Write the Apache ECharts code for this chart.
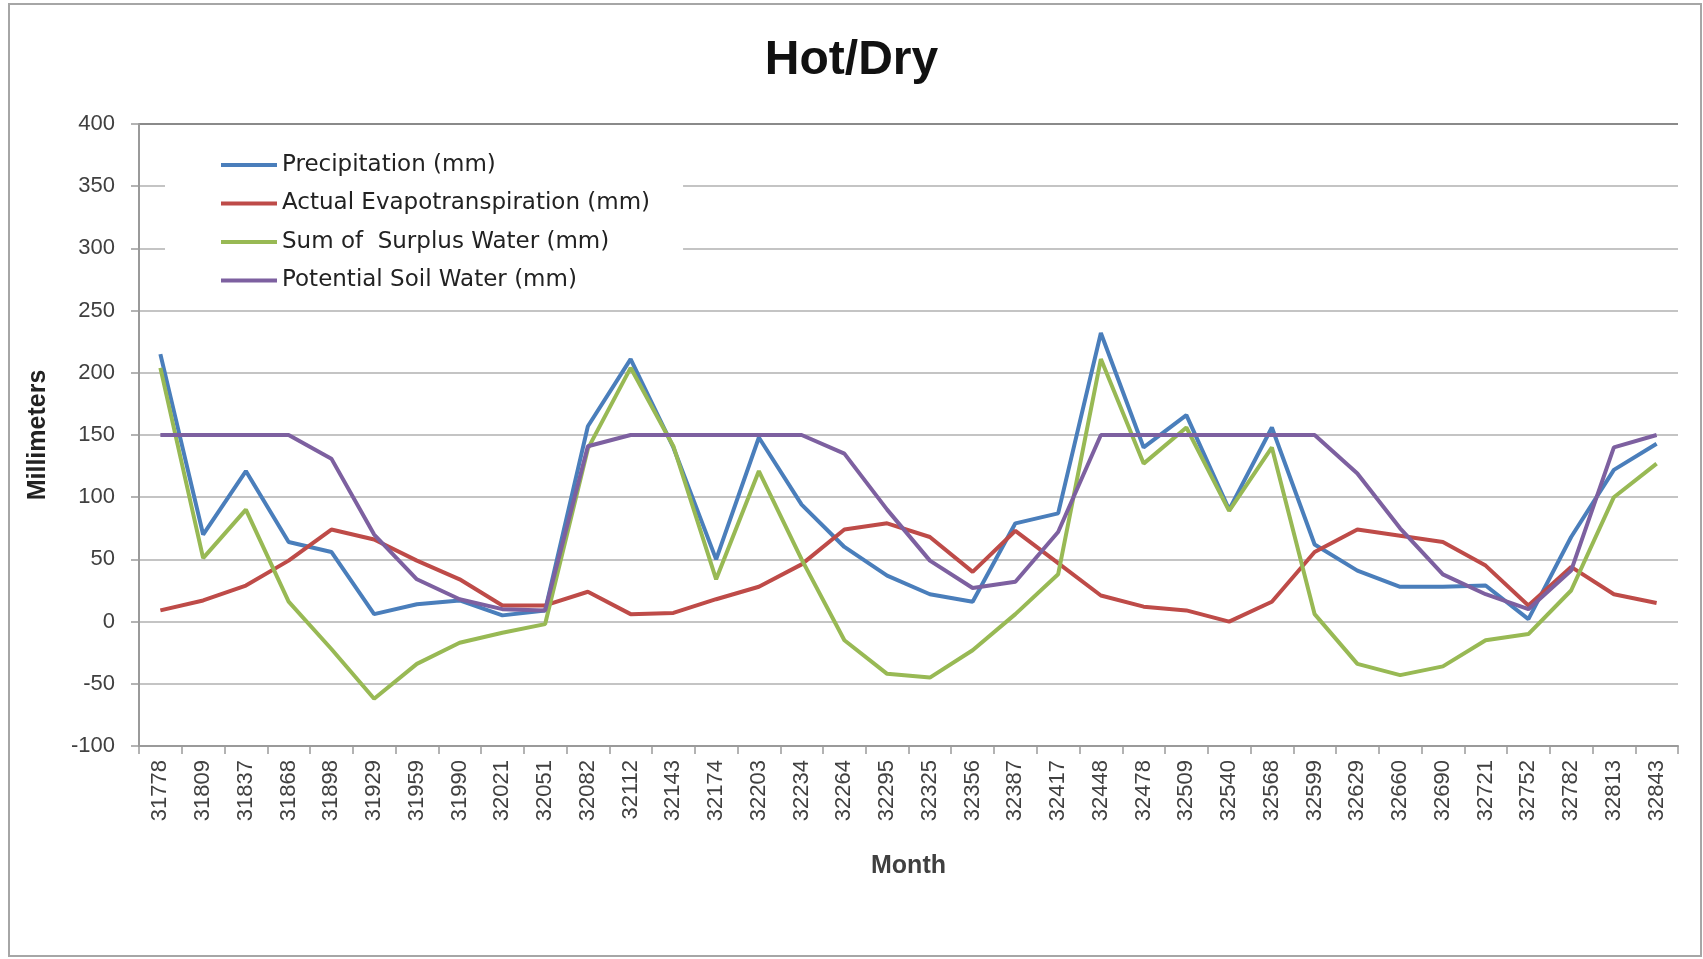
<!DOCTYPE html>
<html lang="en">
<head>
    <meta charset="UTF-8">
    <title>Hot/Dry</title>
    <script src="https://cdn.jsdelivr.net/npm/echarts@6/dist/echarts.min.js"></script>
    <style>
        html, body { margin: 0; padding: 0; background: #ffffff; }
        #chart { width: 1703px; height: 959px; }
    </style>
</head>
<body>
    <div id="chart"></div>
    <script>
        var months = ["31778", "31809", "31837", "31868", "31898", "31929", "31959", "31990", "32021", "32051", "32082", "32112",
            "32143", "32174", "32203", "32234", "32264", "32295", "32325", "32356", "32387", "32417", "32448", "32478",
            "32509", "32540", "32568", "32599", "32629", "32660", "32690", "32721", "32752", "32782", "32813", "32843"];
        var precipitation = [215, 70, 121, 64, 56, 6, 14, 17, 5, 9, 157, 211, 140, 50, 148, 94, 60, 37,
            22, 16, 79, 87, 232, 140, 166, 90, 156, 62, 41, 28, 28, 29, 2, 68, 122, 143];
        var evapotranspiration = [9, 17, 29, 49, 74, 66, 49, 34, 13, 13, 24, 6, 7, 18, 28, 46, 74, 79,
            68, 40, 73, 47, 21, 12, 9, 0, 16, 56, 74, 69, 64, 45, 13, 44, 22, 15];
        var surplus = [204, 51, 90, 16, -22, -62, -34, -17, -9, -2, 139, 204, 141, 34, 121, 50, -15, -42,
            -45, -23, 6, 38, 211, 127, 156, 89, 140, 6, -34, -43, -36, -15, -10, 25, 100, 127];
        var soilWater = [150, 150, 150, 150, 131, 70, 34, 18, 10, 9, 141, 150, 150, 150, 150, 150, 135, 90,
            49, 27, 32, 72, 150, 150, 150, 150, 150, 150, 119, 75, 38, 22, 10, 41, 140, 150];

        var chart = echarts.init(document.getElementById('chart'));

        function line(name, data, color) {
            return {
                name: name,
                type: 'line',
                data: data,
                symbol: 'none',
                smooth: false,
                lineStyle: { width: 4, color: color },
                itemStyle: { color: color }
            };
        }

        // gridlines: last one (400) is darker
        var gridColors = [];
        for (var i = 0; i < 10; i++) gridColors.push('#c4c4c4');
        gridColors.push('#8a8a8a');

        chart.setOption({
            animation: false,
            backgroundColor: '#ffffff',
            graphic: [{
                type: 'rect',
                shape: { x: 9, y: 4, width: 1692, height: 952 },
                style: { fill: 'none', stroke: '#a6a6a6', lineWidth: 2 },
                silent: true
            }],
            title: {
                text: 'Hot/Dry',
                left: 'center',
                top: 32,
                textStyle: { fontFamily: 'Liberation Sans', fontWeight: 'bold', fontSize: 48, color: '#111111' }
            },
            legend: {
                orient: 'vertical',
                left: 165,
                top: 141,
                padding: [12, 33, 12, 56],
                backgroundColor: '#ffffff',
                itemWidth: 56,
                itemHeight: 4,
                itemGap: 14.5,
                icon: 'rect',
                textStyle: { fontFamily: 'DejaVu Sans', fontSize: 23, lineHeight: 24, color: '#222222' },
                data: ['Precipitation (mm)', 'Actual Evapotranspiration (mm)', 'Sum of  Surplus Water (mm)', 'Potential Soil Water (mm)']
            },
            grid: { left: 139, right: 25, top: 124, bottom: 213 },
            xAxis: {
                type: 'category',
                data: months,
                boundaryGap: true,
                name: 'Month',
                nameLocation: 'middle',
                nameGap: 108,
                nameTextStyle: { fontFamily: 'Liberation Sans', fontWeight: 'bold', fontSize: 25, color: '#404040' },
                axisLine: { onZero: false, lineStyle: { color: '#9a9a9a', width: 2 } },
                axisTick: { show: true, interval: 0, length: 8, lineStyle: { color: '#9a9a9a', width: 1.5 } },
                axisLabel: { interval: 0, rotate: 90, margin: 14, fontFamily: 'Liberation Sans', fontSize: 22, color: '#404040' },
                splitLine: { show: false }
            },
            yAxis: {
                type: 'value',
                min: -100,
                max: 400,
                interval: 50,
                name: 'Millimeters',
                nameLocation: 'middle',
                nameGap: 88,
                nameTextStyle: { fontFamily: 'Liberation Sans', fontWeight: 'bold', fontSize: 25, color: '#222222' },
                axisLine: { show: true, lineStyle: { color: '#9a9a9a', width: 2 } },
                axisTick: { show: true, length: 8, lineStyle: { color: '#9a9a9a', width: 1.5 } },
                axisLabel: { margin: 24, fontFamily: 'Liberation Sans', fontSize: 22, color: '#404040' },
                splitLine: { show: true, lineStyle: { color: gridColors, width: 2 } }
            },
            series: [
                line('Precipitation (mm)', precipitation, '#4a7ebb'),
                line('Actual Evapotranspiration (mm)', evapotranspiration, '#be4b48'),
                line('Sum of  Surplus Water (mm)', surplus, '#98b954'),
                line('Potential Soil Water (mm)', soilWater, '#7d60a0')
            ]
        });
    </script>
</body>
</html>
